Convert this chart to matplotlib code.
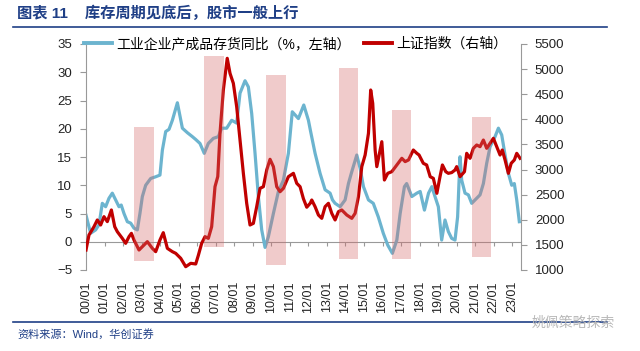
import matplotlib
matplotlib.use("Agg")
import matplotlib.pyplot as plt
from matplotlib.lines import Line2D

plt.rcParams['font.family'] = ['Liberation Sans', 'Noto Sans CJK SC', 'DejaVu Sans']

# 工业企业产成品存货同比 (%, left axis)
inv_t = [2000.0, 2000.25, 2000.52, 2000.7, 2000.88, 2001.06, 2001.24, 2001.42, 2001.6, 2001.78,
         2001.9, 2002.05, 2002.23, 2002.41, 2002.59, 2002.77, 2002.91, 2003.04, 2003.22, 2003.49,
         2003.76, 2003.99, 2004.12, 2004.3, 2004.48, 2004.66, 2004.93, 2005.2, 2005.47, 2005.74,
         2005.92, 2006.15, 2006.38, 2006.6, 2006.87, 2007.14, 2007.32, 2007.59, 2007.86, 2008.13,
         2008.31, 2008.58, 2008.76, 2008.94, 2009.12, 2009.3, 2009.48, 2009.66, 2009.84, 2010.11,
         2010.38, 2010.65, 2010.92, 2011.13, 2011.46, 2011.75, 2012.0, 2012.12, 2012.36, 2012.63,
         2012.9, 2013.17, 2013.3, 2013.44, 2013.71, 2013.98, 2014.16, 2014.34, 2014.61, 2014.79,
         2014.97, 2015.24, 2015.5, 2015.77, 2016.04, 2016.28, 2016.53, 2016.77, 2016.95, 2017.18,
         2017.3, 2017.58, 2017.85, 2018.03, 2018.26, 2018.48, 2018.66, 2018.83, 2019.01, 2019.19,
         2019.37, 2019.55, 2019.73, 2019.91, 2020.05, 2020.18, 2020.27, 2020.45, 2020.63, 2020.81,
         2020.99, 2021.26, 2021.44, 2021.62, 2021.8, 2022.07, 2022.25, 2022.43, 2022.61, 2022.79,
         2022.97, 2023.11, 2023.24, 2023.38]
inv_v = [4.7, 1.5, 2.1, 3.0, 6.8, 6.2, 7.7, 8.6, 7.4, 6.2,
         6.5, 5.0, 3.55, 3.3, 2.4, 2.1, 5.0, 8.0, 10.0, 11.2,
         11.5, 11.8, 16.2, 19.5, 19.9, 21.5, 24.6, 20.1, 19.3, 18.6,
         18.1, 17.4, 15.65, 17.4, 18.3, 18.6, 20.1, 20.1, 21.5, 21.0,
         26.3, 28.5, 27.4, 22.7, 15.65, 8.0, 2.1, -1.0, 0.9, 5.0,
         8.9, 10.9, 15.65, 23.0, 21.8, 24.2, 21.5, 19.5, 15.65, 12.1,
         9.2, 8.6, 7.4, 6.8, 6.2, 7.4, 10.3, 12.4, 15.35, 13.0,
         9.75, 7.4, 6.8, 4.4, 1.5, -0.6, -2.05, 0.3, 5.0, 9.75,
         10.3, 8.0, 8.6, 8.9, 5.6, 8.6, 9.75, 8.0, 6.2, 0.3,
         3.85, 1.8, 0.6, 0.3, 4.4, 15.05, 10.9, 8.6, 8.3, 6.8,
         7.4, 8.3, 10.3, 13.9, 16.8, 18.6, 20.1, 18.9, 15.35, 12.1,
         10.0, 10.3, 7.4, 3.55]

# 上证指数 (right axis)
sh_t = [2000.0, 2000.16, 2000.43, 2000.61, 2000.79, 2000.97, 2001.15, 2001.37, 2001.55, 2001.69,
        2001.96, 2002.14, 2002.32, 2002.45, 2002.59, 2002.86, 2003.13, 2003.31, 2003.58, 2003.76,
        2003.99, 2004.17, 2004.39, 2004.66, 2004.84, 2005.11, 2005.38, 2005.65, 2005.92, 2006.06,
        2006.24, 2006.42, 2006.6, 2006.78, 2006.96, 2007.11, 2007.23, 2007.41, 2007.62, 2007.77,
        2007.95, 2008.13, 2008.31, 2008.49, 2008.67, 2008.85, 2009.03, 2009.21, 2009.39, 2009.57,
        2009.75, 2009.93, 2010.11, 2010.29, 2010.47, 2010.65, 2010.92, 2011.19, 2011.37, 2011.55,
        2011.73, 2011.91, 2012.1, 2012.18, 2012.36, 2012.54, 2012.72, 2012.9, 2013.08, 2013.26,
        2013.44, 2013.62, 2013.8, 2014.07, 2014.34, 2014.52, 2014.7, 2014.88, 2015.06, 2015.24,
        2015.36, 2015.47, 2015.6, 2015.69, 2015.87, 2015.96, 2016.1, 2016.28, 2016.5, 2016.77,
        2017.04, 2017.22, 2017.4, 2017.66, 2017.85, 2017.97, 2018.2, 2018.38, 2018.57, 2018.74,
        2018.93, 2019.1, 2019.23, 2019.41, 2019.55, 2019.73, 2019.91, 2020.0, 2020.18, 2020.42,
        2020.54, 2020.72, 2020.9, 2021.08, 2021.26, 2021.44, 2021.62, 2021.8, 2021.98, 2022.16,
        2022.34, 2022.46, 2022.61, 2022.79, 2022.94, 2023.11, 2023.24, 2023.42]
sh_v = [1398, 1697, 1862, 1996, 1896, 2062, 1963, 2195, 1862, 1763,
        1630, 1531, 1664, 1730, 1597, 1398, 1498, 1564, 1431, 1365,
        1597, 1743, 1431, 1365, 1332, 1233, 1066, 1133, 1120, 1290,
        1531, 1664, 1630, 1862, 2659, 2861, 3722, 4584, 5215, 4916,
        4717, 4251, 3588, 2925, 2328, 1896, 1929, 2261, 2626, 2659,
        2991, 3204, 3058, 2659, 2559, 2626, 2858, 2925, 2726, 2659,
        2420, 2250, 2330, 2394, 2261, 2095, 2029, 2261, 2328, 2128,
        1996, 2162, 2195, 2095, 2029, 2128, 2460, 3058, 3290, 3722,
        4584, 4319, 3389, 3058, 3389, 3555, 2792, 2925, 2958, 3091,
        3224, 3158, 3191, 3389, 3323, 3290, 3124, 3091, 2858, 2825,
        2527, 2858, 3091, 2958, 2925, 2940, 2991, 3058, 2858, 2958,
        3323, 3224, 3423, 3489, 3456, 3588, 3423, 3522, 3622, 3456,
        3290, 3389, 3191, 2925, 3124, 3191, 3323, 3224]

# shaded periods (left-axis units)
band_start = [2002.59, 2006.39, 2009.71, 2013.67, 2016.53, 2020.85]
band_end = [2003.67, 2007.47, 2010.77, 2014.70, 2017.52, 2021.87]
band_top = [20.3, 32.9, 29.5, 30.7, 23.3, 22.0]
band_bottom = [-3.4, -1.0, -4.2, -3.0, -3.0, -2.75]

years = list(range(2000, 2024))
year_labels = [f"{y % 100:02d}/01" for y in years]

blue = '#6cb4cf'
red = '#c00000'
grey = '#999999'
navy = '#1f3f86'

fig = plt.figure(figsize=(6.4, 3.51), dpi=100)
ax = fig.add_axes([86 / 640, 1 - 270 / 351, 435 / 640, 226 / 351])
ax2 = ax.twinx()
ax3 = ax.twinx()

ax.plot(inv_t, inv_v, color=blue, lw=2.3)
ax2.plot(sh_t, sh_v, color=red, lw=2.3)

centers = [(s + e) / 2 for s, e in zip(band_start, band_end)]
widths = [e - s for s, e in zip(band_start, band_end)]
heights = [t - b for t, b in zip(band_top, band_bottom)]
ax3.bar(centers, heights, width=widths, bottom=band_bottom, color='#d46a6a', alpha=0.35, lw=0)

ax.set_xlim(2000, 2023.47)
ax.set_ylim(-5, 35)
ax3.set_ylim(-5, 35)
ax2.set_ylim(1000, 5500)
ax.set_yticks(range(-5, 36, 5))
ax2.set_yticks(range(1000, 5501, 500))
ax3.axis('off')

for a in (ax, ax2):
    a.spines['top'].set_visible(False)
    a.spines['bottom'].set_visible(False)
    a.spines['left'].set_color(grey)
    a.spines['right'].set_color(grey)
ax.spines['right'].set_visible(False)
ax2.spines['left'].set_visible(False)

ax.tick_params(axis='y', length=4, color=grey, labelsize=9.5, pad=6, labelcolor='#222222')
ax2.tick_params(axis='y', length=4, color=grey, labelsize=9.5, pad=6, labelcolor='#222222')
ax.set_xticks(years)
ax.set_xticklabels(year_labels, rotation=90)
ax.tick_params(axis='x', length=0, labelsize=9, pad=8, labelcolor='#222222')

# x axis line at zero
sec = ax.secondary_xaxis(0.125)
sec.set_xticks(years)
sec.tick_params(axis='x', length=3, color=grey, labelbottom=False, direction='out')
sec.spines['bottom'].set_color(grey)

handles = [Line2D([], [], color=blue, lw=2.8), Line2D([], [], color=red, lw=2.8)]
fig.legend(handles, ['工业企业产成品存货同比（%，左轴）', '上证指数（右轴）'],
           loc='center left', bbox_to_anchor=(84 / 640, 1 - 44 / 351), ncol=2, frameon=False,
           fontsize=10, handlelength=2.0, handletextpad=0.3, columnspacing=1.0,
           borderpad=0, borderaxespad=0)

fig.text(17 / 640, 1 - 13 / 351, '图表 11    库存周期见底后，股市一般上行', fontsize=11,
         fontweight='bold', color=navy, va='center', ha='left')
fig.add_artist(Line2D([13 / 640, 607 / 640], [1 - 27 / 351, 1 - 27 / 351], color=navy, lw=1.2))
fig.add_artist(Line2D([13 / 640, 607 / 640], [1 - 322 / 351, 1 - 322 / 351], color=navy, lw=1.2))
fig.text(17 / 640, 1 - 334 / 351, '资料来源：Wind，华创证券', fontsize=8, color=navy,
         va='center', ha='left')
fig.text(615 / 640, 1 - 323 / 351, '姚佩策略探索', fontsize=10, color='#b8b8b8',
         va='center', ha='right')

fig.savefig('out.png', dpi=100)
